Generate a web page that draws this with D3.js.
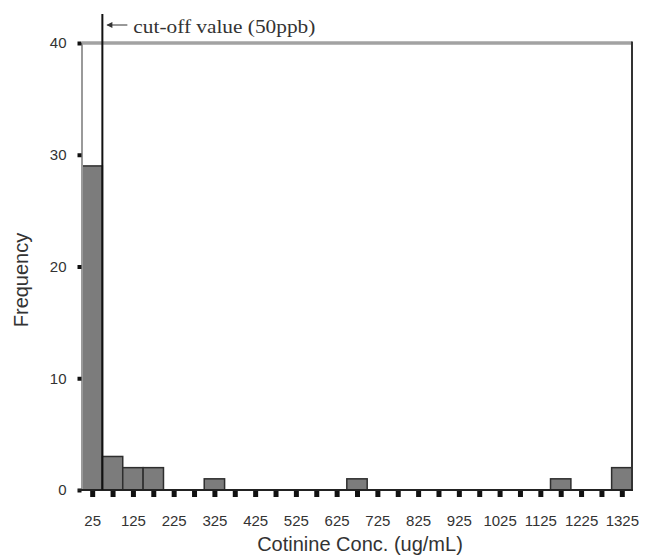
<!DOCTYPE html>
<html>
<head>
<meta charset="utf-8">
<script src="https://cdn.jsdelivr.net/npm/d3@7"></script>
<style>
  body { margin: 0; background: #fff; }
  svg { display: block; }
</style>
</head>
<body>
<svg id="chart" width="649" height="555"></svg>
<script>
// histogram bins (centre of each 50-wide bin) and their counts
const binCenters = [25, 75, 125, 175, 325, 675, 1175, 1325];
const counts = [29, 3, 2, 2, 1, 1, 1, 2];
const binWidth = 50;
const yTicks = [0, 10, 20, 30, 40];
const xTicks = d3.range(25, 1350, 50);
const xLabels = [25, 125, 225, 325, 425, 525, 625, 725, 825, 925, 1025, 1125, 1225, 1325];
const cutoff = 50;

const svg = d3.select('#chart');

const x = d3.scaleLinear().domain([0, 1350]).range([82, 632]);
const y = d3.scaleLinear().domain([0, 40]).range([490, 43]);

// bars
svg.selectAll('rect.bar')
  .data(binCenters)
  .enter().append('rect')
  .attr('class', 'bar')
  .attr('x', (d) => x(d - binWidth / 2))
  .attr('width', (d) => x(d + binWidth / 2) - x(d - binWidth / 2))
  .attr('y', (d, i) => y(counts[i]))
  .attr('height', (d, i) => y(0) - y(counts[i]))
  .attr('fill', '#7c7c7c')
  .attr('stroke', '#2e2e2e')
  .attr('stroke-width', 1.5);

// frame
svg.append('line')
  .attr('x1', x(0)).attr('x2', x(1350))
  .attr('y1', y(40)).attr('y2', y(40))
  .attr('stroke', '#a2a2a2').attr('stroke-width', 3.5);
svg.append('line')
  .attr('x1', x(0)).attr('x2', x(0))
  .attr('y1', y(40)).attr('y2', y(0))
  .attr('stroke', '#9a9a9a').attr('stroke-width', 2);
svg.append('line')
  .attr('x1', x(1350)).attr('x2', x(1350))
  .attr('y1', y(40) - 1.5).attr('y2', y(0))
  .attr('stroke', '#333').attr('stroke-width', 2);

// y axis
const yAxis = svg.append('g')
  .attr('transform', `translate(${x(0) - 0.5},0)`)
  .call(d3.axisLeft(y).tickValues(yTicks).tickSize(4).tickPadding(11));
yAxis.select('.domain').remove();
yAxis.selectAll('.tick line').attr('stroke', '#111').attr('stroke-width', 4);
yAxis.selectAll('.tick text')
  .attr('fill', '#333')
  .style('font-family', '"Liberation Sans", Arial, sans-serif')
  .style('font-size', '15px');

// x axis
const xAxis = svg.append('g')
  .attr('transform', `translate(0,${y(0) + 1})`)
  .call(d3.axisBottom(x)
    .tickValues(xTicks)
    .tickSize(6)
    .tickPadding(18)
    .tickFormat((d) => xLabels.includes(d) ? d : ''));
xAxis.select('.domain').remove();
xAxis.selectAll('.tick line').attr('stroke', '#111').attr('stroke-width', 5);
xAxis.selectAll('.tick text')
  .attr('fill', '#333')
  .style('font-family', '"Liberation Sans", Arial, sans-serif')
  .style('font-size', '15px');

// baseline
svg.append('line')
  .attr('x1', x(0) - 4).attr('x2', x(1350) + 1)
  .attr('y1', y(0)).attr('y2', y(0))
  .attr('stroke', '#222').attr('stroke-width', 2);

// cut-off line and note
svg.append('line')
  .attr('x1', x(cutoff)).attr('x2', x(cutoff))
  .attr('y1', 14).attr('y2', y(0))
  .attr('stroke', '#111').attr('stroke-width', 2);

svg.append('line')
  .attr('x1', x(cutoff) + 5).attr('x2', x(cutoff) + 25)
  .attr('y1', 25).attr('y2', 25)
  .attr('stroke', '#333').attr('stroke-width', 1);
svg.append('path')
  .attr('d', `M${x(cutoff) + 4},25 l6,-3 l0,6 z`)
  .attr('fill', '#333');

svg.append('text')
  .attr('x', x(cutoff) + 31)
  .attr('y', 33)
  .attr('textLength', 182)
  .attr('lengthAdjust', 'spacingAndGlyphs')
  .style('font-family', '"Liberation Serif", "Times New Roman", serif')
  .style('font-size', '18px')
  .attr('fill', '#333')
  .text('cut-off value (50ppb)');

// axis titles
svg.append('text')
  .attr('x', 360)
  .attr('y', 551)
  .attr('text-anchor', 'middle')
  .style('font-family', '"Liberation Sans", Arial, sans-serif')
  .style('font-size', '20px')
  .attr('fill', '#333')
  .text('Cotinine Conc. (ug/mL)');

svg.append('text')
  .attr('transform', 'translate(28,280) rotate(-90)')
  .attr('text-anchor', 'middle')
  .style('font-family', '"Liberation Sans", Arial, sans-serif')
  .style('font-size', '20px')
  .attr('fill', '#333')
  .text('Frequency');
</script>
</body>
</html>
